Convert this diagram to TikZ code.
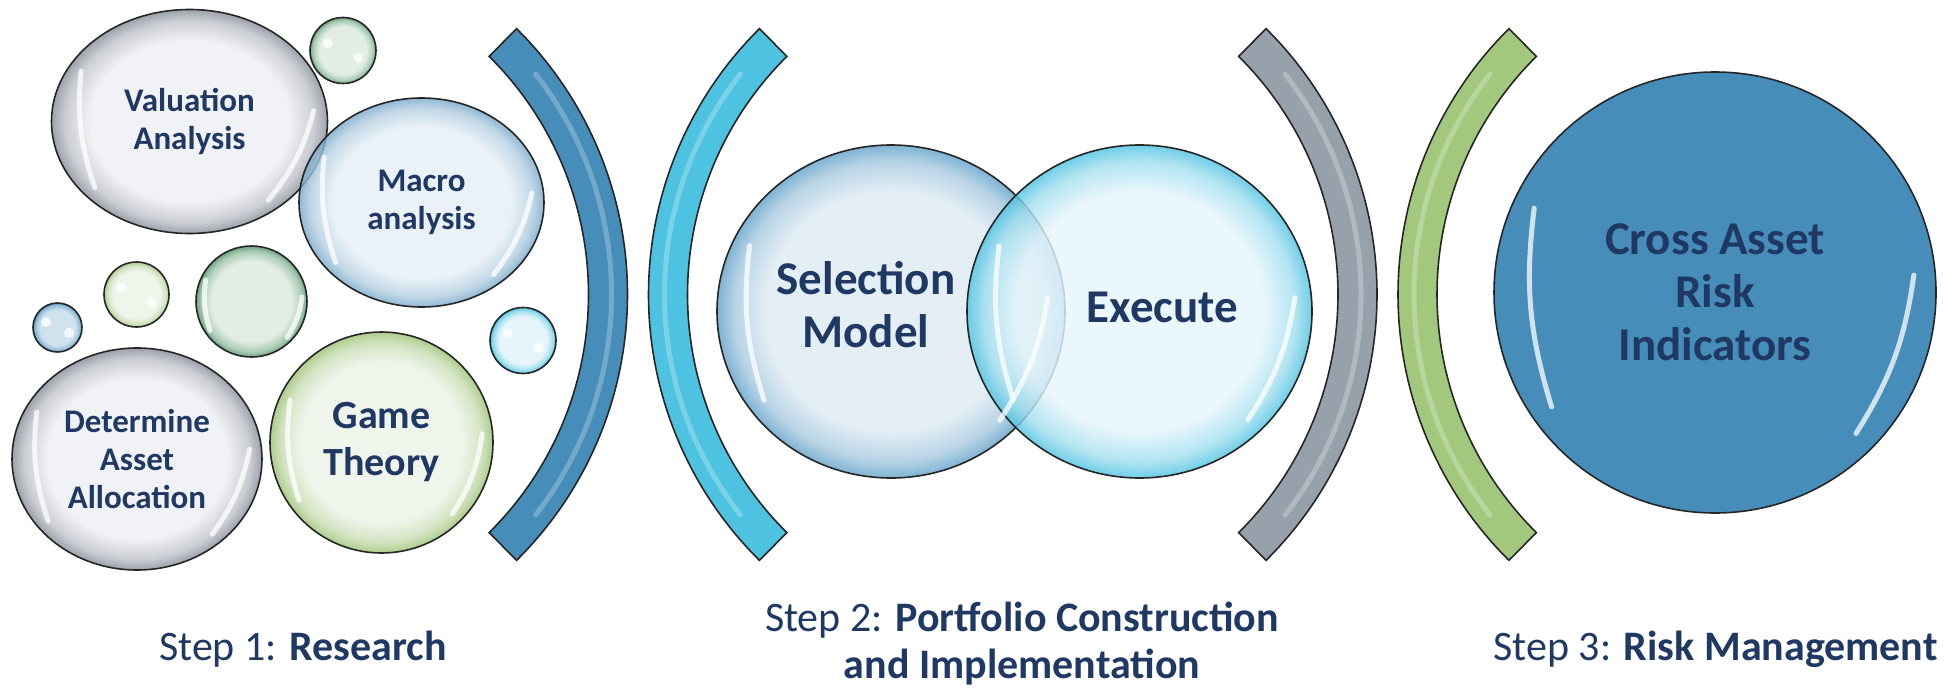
\documentclass[tikz,border=0pt]{standalone}
\usepackage{fontspec}
\setmainfont{Carlito}
\usetikzlibrary{shapes.geometric,calc}

\definecolor{navy}{HTML}{1F3864}
\definecolor{steel}{HTML}{468DBA}
\definecolor{aqua}{HTML}{4DC3E1}
\definecolor{slate}{HTML}{97A1AC}
\definecolor{leaf}{HTML}{A2C87E}
\definecolor{greyin}{HTML}{F1F2F5}
\definecolor{greyrim}{HTML}{9DA2AB}
\definecolor{bluein}{HTML}{E6EFF5}
\definecolor{bluerim}{HTML}{78A9CA}
\definecolor{selin}{HTML}{E4EEF5}
\definecolor{selrim}{HTML}{7FB3D3}
\definecolor{skyin}{HTML}{E5F5FB}
\definecolor{skyrim}{HTML}{4FC3E1}
\definecolor{seain}{HTML}{E2EEE5}
\definecolor{searim}{HTML}{6FA582}
\definecolor{limein}{HTML}{F0F5EC}
\definecolor{limerim}{HTML}{AECD8C}
\definecolor{dotin}{HTML}{CFE2EE}
\definecolor{dotrim}{HTML}{5A9AC3}

% glossy radial fill: light middle, coloured rim
\newcommand{\bubshade}[3]{%
  \pgfdeclareradialshading{#1}{\pgfpoint{0bp}{0bp}}{%
    color(0bp)=(#2); color(18bp)=(#2); color(22.5bp)=(#3!45!#2);%
    color(25bp)=(#3); color(50bp)=(#3)}}
\bubshade{greyball}{greyin}{greyrim}
\bubshade{blueball}{bluein}{bluerim}
\bubshade{selball}{selin}{selrim}
\bubshade{skyball}{skyin}{skyrim}
\bubshade{seaball}{seain}{searim}
\bubshade{limeball}{limein}{limerim}
\bubshade{dotball}{dotin}{dotrim}

\tikzset{%
  bubble/.style = {ellipse, draw=black!85, line width=0.8pt,%
                   align=center, inner sep=0pt, text=navy},%
  minor/.style  = {font=\fontsize{16.5}{19}\selectfont\bfseries},%
  middle/.style = {font=\fontsize{20}{23.5}\selectfont\bfseries},%
  major/.style  = {font=\fontsize{23.5}{26.5}\selectfont\bfseries},%
  front/.style  = {fill opacity=0.82, text opacity=1}%
}

\begin{document}
\begin{tikzpicture}[x=0.5pt,y=0.5pt,
  glint/.style={white, line width=2.5pt, line cap=round, opacity=0.75},
  band/.style={draw=black!85, line width=0.8pt},
  caption/.style={text=navy, align=center, inner sep=0pt},
  steplabel/.style={caption, font=\fontsize{21}{23.5}\selectfont}]
\useasboundingbox (0,0) rectangle (1959,687);

% step 1 bubbles
\node[bubble, minor, shading=greyball, minimum width=138pt, minimum height=112pt] (valu) at (189.5,565.5) {Valuation\\Analysis};
\node[bubble, shading=seaball, minimum size=33pt] (gtop) at (343,636.5) {};
\node[bubble, minor, shading=blueball, front, minimum width=122.5pt, minimum height=104.5pt] (macro) at (421.5,484.5) {Macro\\analysis};
\node[bubble, shading=dotball, minimum size=24.5pt] (bsm) at (57.5,359.5) {};
\node[bubble, shading=limeball, minimum size=32.5pt] (ygr) at (136.5,392.5) {};
\node[bubble, shading=seaball, minimum size=55.5pt] (gmid) at (251.5,385.5) {};
\node[bubble, shading=skyball, minimum size=33pt] (csm) at (523,346.5) {};
\node[bubble, minor, shading=greyball, minimum width=125pt, minimum height=111pt] (determ) at (137,228) {Determine\\Asset\\Allocation};
\node[bubble, middle, shading=limeball, minimum width=111.5pt, minimum height=110.5pt] (game) at (381.5,244.5) {Game\\Theory};

% brackets between the steps
\foreach \cx/\a/\col in {253.5/0/steel, 1022.5/180/aqua, 1003/0/slate, 1772/180/leaf}{
  \coordinate (arcc) at (\cx,392.5);
  \draw[band, fill=\col] ($(arcc)+(\a-45.3:187pt)$) arc[start angle=\a-45.3, end angle=\a+45.3, radius=187pt]
    -- ($(arcc)+(\a+45.3:167.5pt)$) arc[start angle=\a+45.3, end angle=\a-45.3, radius=167.5pt] -- cycle;
  \draw[glint, opacity=0.25] ($(arcc)+(\a-38:179pt)$) arc[start angle=\a-38, end angle=\a+38, radius=179pt];
}

% step 2 and 3
\node[bubble, shading=selball, minimum width=174pt, minimum height=166.5pt] (sel) at (891,375.5) {};
\node[bubble, shading=skyball, front, minimum width=172.5pt, minimum height=166.5pt] (exe) at (1139.5,375.5) {};
\node[caption, major] (seltext) at ([shift={(-25,7)}]sel.center) {Selection\\Model};
\node[caption, major] (exetext) at ([shift={(23,4)}]exe.center) {Execute};
\node[bubble, major, fill=steel, minimum width=221pt, minimum height=220.5pt] (risk) at (1715,394.5) {Cross Asset\\Risk\\Indicators};

\foreach \n in {valu,macro,determ,game,gmid,sel,exe,risk}{
  \draw[glint] ($(\n.center)!0.9!(\n.155)$) to[bend right=12] ($(\n.center)!0.9!(\n.215)$);
  \draw[glint] ($(\n.center)!0.9!(\n.-45)$) to[bend right=12] ($(\n.center)!0.9!(\n.5)$);
}
\foreach \n in {gtop,ygr,bsm,csm}
  \fill[white, opacity=0.8] ($(\n.center)!0.5!(\n.155)$) circle (2.5pt) ($(\n.center)!0.5!(\n.-25)$) circle (2.5pt);

\node[steplabel, anchor=base] (step1) at (303,27) {Step 1: \textbf{Research}};
\node[steplabel] (step2) at (1022,43) {Step 2: \textbf{Portfolio Construction}\\\textbf{and Implementation}};
\node[steplabel, anchor=base] (step3) at (1715.5,27) {Step 3: \textbf{Risk Management}};
\end{tikzpicture}
\end{document}
